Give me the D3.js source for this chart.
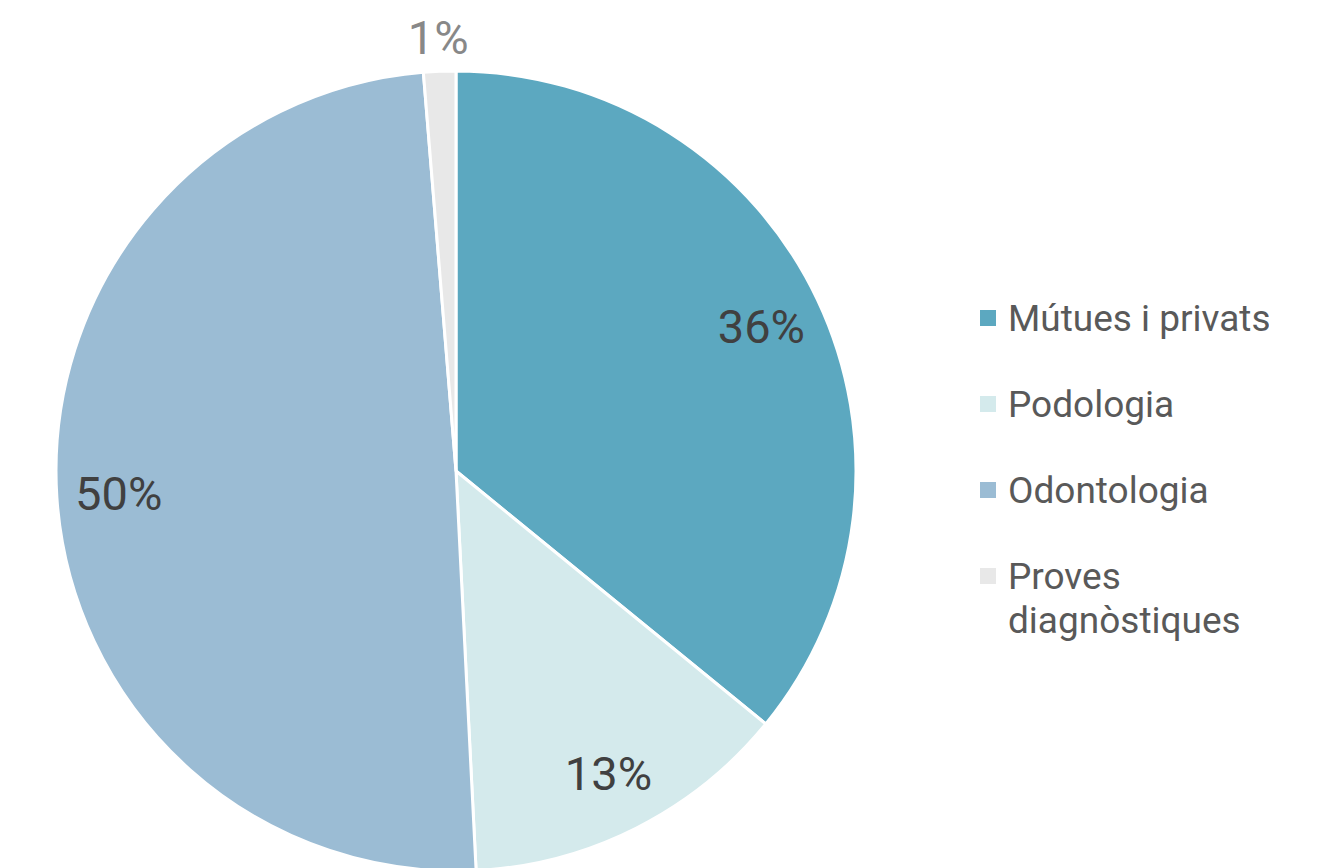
<!DOCTYPE html>
<html><head><meta charset="utf-8">
<script src="https://cdn.jsdelivr.net/npm/d3@7"></script>
<style>body{margin:0;background:#fff;overflow:hidden}</style>
</head><body>
<svg id="c" width="1331" height="868"></svg>
<script>
const categories = ["Mútues i privats", "Podologia", "Odontologia", "Proves diagnòstiques"];
const values = [35.9, 13.3, 49.5, 1.3];
const labels = ["36%", "13%", "50%", "1%"];
const colors = ["#5ca8c0", "#d4eaec", "#9bbcd4", "#e8e8e8"];
const legendLines = [["Mútues i privats"], ["Podologia"], ["Odontologia"], ["Proves", "diagnòstiques"]];

const svg = d3.select("#c");
const font = "Roboto, 'DejaVu Sans', sans-serif";
const cx = 456, cy = 471, R = 400;
const data = categories.map((c, i) => ({cat: c, value: values[i], label: labels[i], color: colors[i]}));
const pie = d3.pie().sort(null).value(d => d.value);
const arcs = pie(data);
const arc = d3.arc().innerRadius(0).outerRadius(R);
const g = svg.append("g").attr("transform", `translate(${cx},${cy})`);
g.selectAll("path").data(arcs).join("path")
  .attr("d", arc).attr("fill", d => d.data.color)
  .attr("stroke", "#fff").attr("stroke-width", 3).attr("stroke-linejoin", "round");

g.selectAll("text.lbl").data(arcs).join("text").attr("class", "lbl")
  .each(function(d) {
    const small = (d.endAngle - d.startAngle) < 0.2;
    const r = small ? R * 1.085 : R * 0.845;
    const a = (d.startAngle + d.endAngle) / 2;
    d3.select(this)
      .attr("x", r * Math.sin(a))
      .attr("y", -r * Math.cos(a))
      .attr("fill", small ? "#888888" : "#404040");
  })
  .attr("text-anchor", "middle").attr("dy", "0.36em")
  .attr("font-family", font).attr("font-size", 47)
  .text(d => d.data.label);

const leg = svg.append("g");
const rowY = [318, 404, 490, 576];
legendLines.forEach((lines, i) => {
  leg.append("rect").attr("x", 980).attr("y", rowY[i] - 8).attr("width", 16).attr("height", 16).attr("fill", colors[i]);
  const t = leg.append("text").attr("x", 1008).attr("y", rowY[i]).attr("dy", "0.35em")
    .attr("font-family", font).attr("font-size", 37).attr("fill", "#595959");
  lines.forEach((ln, j) => t.append("tspan").attr("x", 1008).attr("dy", j === 0 ? "0.35em" : "1.2em").text(ln));
});
svg.append("defs").append("clipPath").attr("id", "lc").append("rect").attr("x", 960).attr("y", 0).attr("width", 309).attr("height", 868);
leg.attr("clip-path", "url(#lc)");
</script>
</body></html>
